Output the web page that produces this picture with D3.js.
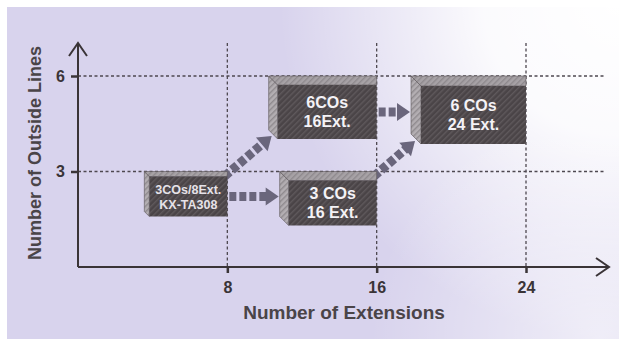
<!DOCTYPE html>
<html>
<head>
<meta charset="utf-8">
<script src="https://cdn.jsdelivr.net/npm/d3@7"></script>
<style>
  html, body { margin: 0; padding: 0; background: #ffffff; }
  svg { display: block; }
</style>
</head>
<body>
<svg id="chart" width="619" height="339"></svg>
<script>
// Upgrade path data: extensions (x) and outside lines (y) for each configuration
const configLabels = [
  ["3COs/8Ext.", "KX-TA308"],
  ["6COs", "16Ext."],
  ["3 COs", "16 Ext."],
  ["6 COs", "24 Ext."]
];
const configExtensions = [8, 16, 16, 24];
const configLines = [3, 6, 3, 6];
// Upgrade steps as [from, to] indices into the configuration arrays
const upgradeSteps = [[0, 2], [0, 1], [1, 3], [2, 3]];
const xTicks = [8, 16, 24];
const yTicks = [3, 6];
const xTitle = "Number of Extensions";
const yTitle = "Number of Outside Lines";

const svg = d3.select("#chart");
const W = 619, H = 339;
const font = "'Liberation Sans', Arial, Helvetica, sans-serif";

const x = d3.scaleLinear().domain([0, 24]).range([78, 526]);
const y = d3.scaleLinear().domain([0, 6]).range([267, 76]);

const defs = svg.append("defs");

// Background wash: lavender with a bright corner
const rg = defs.append("radialGradient").attr("id", "glow")
  .attr("gradientUnits", "userSpaceOnUse")
  .attr("cx", 619).attr("cy", 0).attr("r", 340);
rg.append("stop").attr("offset", 0).attr("stop-color", "#ffffff").attr("stop-opacity", 1);
rg.append("stop").attr("offset", 0.4).attr("stop-color", "#ffffff").attr("stop-opacity", 0.9);
rg.append("stop").attr("offset", 1).attr("stop-color", "#ffffff").attr("stop-opacity", 0);

const rg2 = defs.append("radialGradient").attr("id", "glow2")
  .attr("gradientUnits", "userSpaceOnUse")
  .attr("cx", 600).attr("cy", 339).attr("r", 230);
rg2.append("stop").attr("offset", 0).attr("stop-color", "#ffffff").attr("stop-opacity", 0.6);
rg2.append("stop").attr("offset", 1).attr("stop-color", "#ffffff").attr("stop-opacity", 0);

// Hatch patterns for the box faces
function hatch(id, bg, line) {
  const p = defs.append("pattern").attr("id", id)
    .attr("patternUnits", "userSpaceOnUse")
    .attr("width", 4).attr("height", 4)
    .attr("patternTransform", "rotate(45)");
  p.append("rect").attr("width", 4).attr("height", 4).attr("fill", bg);
  p.append("rect").attr("width", 1.4).attr("height", 4).attr("fill", line);
}
hatch("hFront", "#4a4447", "#5f595c");
hatch("hTop", "#a7a2a6", "#8e898d");
hatch("hSide", "#b3aeb2", "#8f8a8e");

svg.append("rect").attr("width", W).attr("height", H).attr("fill", "#ffffff");
svg.append("rect").attr("x", 7).attr("y", 7).attr("width", W - 7).attr("height", H - 7).attr("fill", "#d8d3ed");
svg.append("rect").attr("x", 7).attr("y", 7).attr("width", W - 7).attr("height", H - 7).attr("fill", "url(#glow)");
svg.append("rect").attr("x", 7).attr("y", 7).attr("width", W - 7).attr("height", H - 7).attr("fill", "url(#glow2)");

// Dashed reference grid
const gridColor = "#4e4850";
const grid = svg.append("g").attr("stroke", gridColor).attr("stroke-width", 1.3)
  .attr("stroke-dasharray", "3,2.5").attr("fill", "none");
grid.selectAll("line.v").data(xTicks).join("line").attr("class", "v")
  .attr("x1", d => x(d)).attr("x2", d => x(d))
  .attr("y1", 43).attr("y2", y(0));
grid.selectAll("line.h").data(yTicks).join("line").attr("class", "h")
  .attr("x1", x(0)).attr("x2", 605)
  .attr("y1", d => y(d)).attr("y2", d => y(d));

// Axes
const axisColor = "#3a3437";
const xAxis = svg.append("g").attr("transform", `translate(0,${y(0)})`)
  .call(d3.axisBottom(x).tickValues(xTicks).tickSize(6).tickPadding(6).tickFormat(d3.format("d")));
const yAxis = svg.append("g").attr("transform", `translate(${x(0)},0)`)
  .call(d3.axisLeft(y).tickValues(yTicks).tickSize(7).tickPadding(6).tickFormat(d3.format("d")));
[xAxis, yAxis].forEach(g => {
  g.select(".domain").remove();
  g.selectAll(".tick line").attr("stroke", axisColor).attr("stroke-width", 2.5);
  g.selectAll(".tick text").attr("fill", "#3a3437").attr("font-family", font)
    .attr("font-weight", "bold").attr("font-size", 16);
});
xAxis.selectAll(".tick text").attr("dy", "0.85em");

const axes = svg.append("g").attr("stroke", axisColor).attr("stroke-width", 2).attr("fill", "none");
axes.append("line").attr("x1", x(0)).attr("y1", y(0)).attr("x2", 609).attr("y2", y(0));
axes.append("line").attr("x1", x(0)).attr("y1", y(0)).attr("x2", x(0)).attr("y2", 44);
axes.append("path").attr("d", `M596,${y(0) - 9}L609,${y(0)}L596,${y(0) + 9}`).attr("stroke-linejoin", "miter");
axes.append("path").attr("d", `M${x(0) - 9},56L${x(0)},43L${x(0) + 9},56`).attr("stroke-linejoin", "miter");

// Axis titles
svg.append("text").attr("x", 344).attr("y", 319).attr("text-anchor", "middle")
  .attr("font-family", font).attr("font-weight", "bold").attr("font-size", 19)
  .attr("fill", "#4a4448").text(xTitle);
svg.append("text").attr("transform", "translate(41,153) rotate(-90)").attr("text-anchor", "middle")
  .attr("font-family", font).attr("font-weight", "bold").attr("font-size", 18)
  .attr("fill", "#4a4448").text(yTitle);

// Box geometry: each box's back top-right corner sits on its data point
const boxW = [83, 108, 97, 115];
const boxH = [45, 63, 54, 68];
const boxD = [5, 9, 9, 10];
const boxFont = [12.5, 16, 16, 16];

const boxes = configLabels.map((lab, i) => {
  const R = x(configExtensions[i]), T = y(configLines[i]);
  return { i, lab, R, T, L: R - boxW[i], B: T + boxH[i], d: boxD[i] };
});

// Upgrade arrows (drawn beneath the boxes)
const arrowColor = "#6a667c";
function arrow(x1, y1, x2, y2) {
  const ang = Math.atan2(y2 - y1, x2 - x1);
  const headLen = 13, headW = 9;
  const bx = x2 - headLen * Math.cos(ang), by = y2 - headLen * Math.sin(ang);
  const g = svg.append("g");
  g.append("line").attr("x1", x1).attr("y1", y1).attr("x2", bx + Math.cos(ang)).attr("y2", by + Math.sin(ang))
    .attr("stroke", arrowColor).attr("stroke-width", 9).attr("stroke-dasharray", "7,3");
  const px = -Math.sin(ang), py = Math.cos(ang);
  g.append("path").attr("fill", arrowColor)
    .attr("d", `M${x2},${y2}L${bx + px * headW},${by + py * headW}L${bx - px * headW},${by - py * headW}Z`);
}
upgradeSteps.forEach(([a, b]) => {
  const s = boxes[a], t = boxes[b];
  if (configLines[a] === configLines[b]) {
    const yy = (s.T + s.d + s.B) / 2;
    arrow(s.R + 2, yy, t.L - 1, yy);
  } else {
    arrow(s.R - 3, s.T + 5, t.L + t.d - 6, t.B - 3);
  }
});

// 3D boxes
const bg = svg.append("g").selectAll("g").data(boxes).join("g");
bg.append("path").attr("fill", "url(#hSide)").attr("stroke", "#5a5458").attr("stroke-width", 0.6)
  .attr("d", b => `M${b.L},${b.T}L${b.L + b.d},${b.T + b.d}L${b.L + b.d},${b.B}L${b.L},${b.B - b.d}Z`);
bg.append("path").attr("fill", "url(#hTop)").attr("stroke", "#5a5458").attr("stroke-width", 0.6)
  .attr("d", b => `M${b.L},${b.T}L${b.R},${b.T}L${b.R},${b.T + b.d}L${b.L + b.d},${b.T + b.d}Z`);
bg.append("rect").attr("fill", "url(#hFront)")
  .attr("x", b => b.L + b.d).attr("y", b => b.T + b.d)
  .attr("width", b => b.R - b.L - b.d).attr("height", b => b.B - b.T - b.d);
bg.each(function (b) {
  const cx = (b.L + b.d + b.R) / 2, cy = (b.T + b.d + b.B) / 2;
  const fs = boxFont[b.i];
  const gap = fs * 1.2;
  d3.select(this).selectAll("text").data(b.lab).join("text")
    .attr("x", cx).attr("y", (d, k) => cy + (k - 0.5) * gap)
    .attr("dy", "0.36em").attr("text-anchor", "middle")
    .attr("font-family", font).attr("font-weight", "bold").attr("font-size", fs)
    .attr("fill", b.i === 0 ? "#e6e2e8" : "#f4f2f6").text(d => d);
});
</script>
</body>
</html>
